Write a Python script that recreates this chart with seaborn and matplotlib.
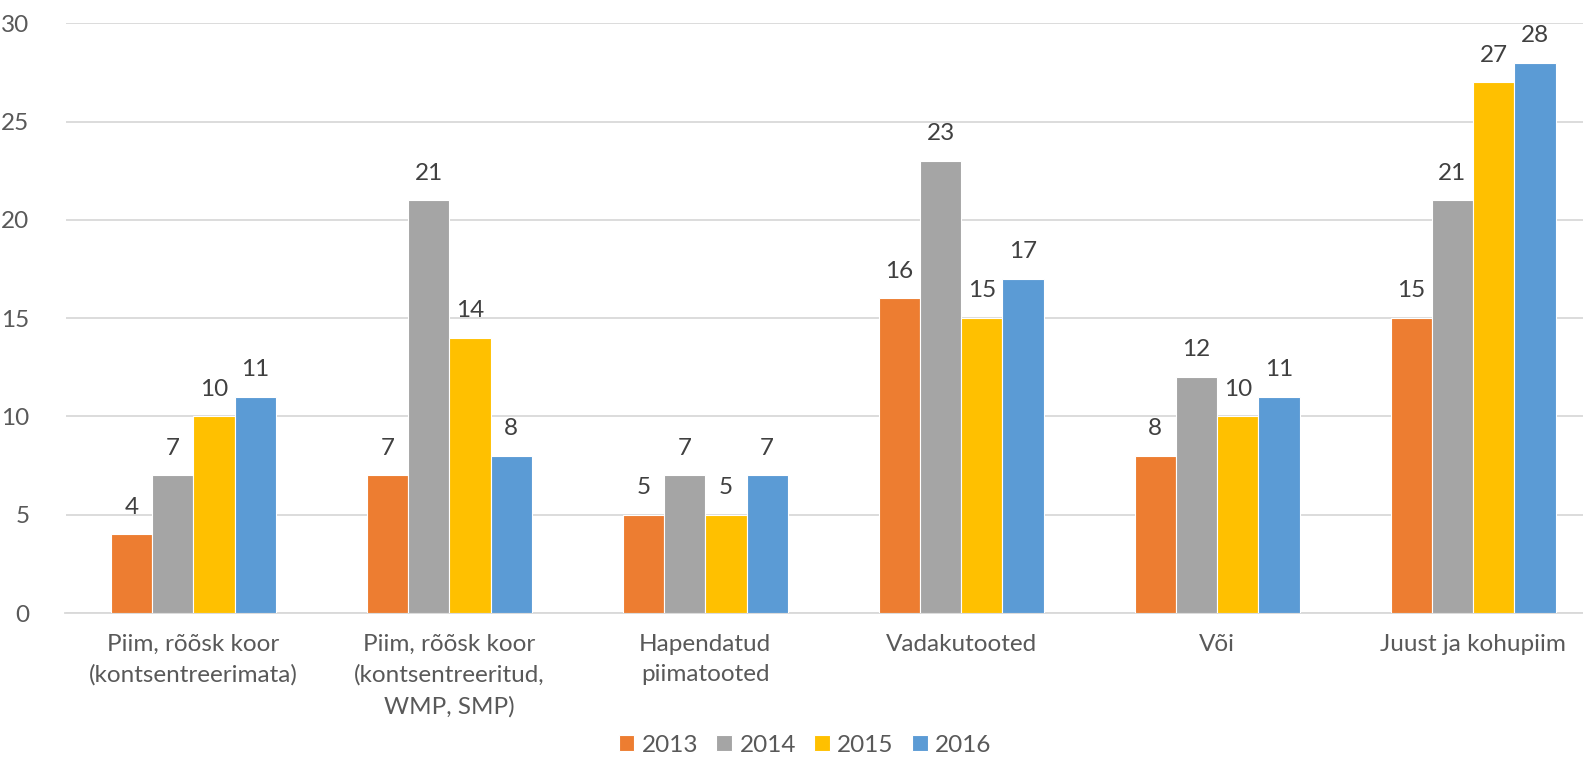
import numpy as np
import pandas as pd
import matplotlib
matplotlib.use("Agg")
import matplotlib.pyplot as plt
import seaborn as sns

# andmed
tooted = ["Piim, rõõsk koor\n(kontsentreerimata)",
          "Piim, rõõsk koor\n(kontsentreeritud,\nWMP, SMP)",
          "Hapendatud\npiimatooted",
          "Vadakutooted",
          "Või",
          "Juust ja kohupiim"]
aastad = ["2013", "2014", "2015", "2016"]
v2013 = [4, 7, 5, 16, 8, 15]
v2014 = [7, 21, 7, 23, 12, 21]
v2015 = [10, 14, 5, 15, 10, 27]
v2016 = [11, 8, 7, 17, 11, 28]
varvid = ["#ED7D31", "#A5A5A5", "#FFC000", "#5B9BD5"]

df = pd.DataFrame({"toode": tooted * 4,
                   "aasta": np.repeat(aastad, len(tooted)),
                   "vaartus": v2013 + v2014 + v2015 + v2016})

sns.set_theme(style="white")
plt.rcParams["font.family"] = ["Lato", "DejaVu Sans"]
fs = 17.5

fig = plt.figure(figsize=(15.83, 7.64), dpi=100)
ax = fig.add_axes([65.5 / 1583, 151 / 764, 1535.5 / 1583, 589.7 / 764])

sns.barplot(data=df, x="toode", y="vaartus", hue="aasta", palette=varvid,
            width=0.645, gap=0, edgecolor="white", linewidth=0.8,
            saturation=1, ax=ax, zorder=3)

# sildid tulpade kohal
for c in ax.containers:
    ax.bar_label(c, padding=12, fontsize=fs, color="#404040")

ax.set_ylim(0, 30)
ax.set_yticks(range(0, 31, 5))
ax.set_xlim(-0.5, 5.5)
ax.grid(axis="y", color="#D9D9D9", linewidth=1.3, zorder=0)
ax.set_xlabel("")
ax.set_ylabel("")
for s in ["top", "right", "left"]:
    ax.spines[s].set_visible(False)
ax.spines["bottom"].set_color("#D9D9D9")
ax.spines["bottom"].set_linewidth(1.3)
ax.tick_params(axis="both", length=0, labelsize=fs, colors="#595959")
ax.tick_params(axis="y", pad=26)
ax.tick_params(axis="x", pad=15)
for t in ax.get_xticklabels():
    t.set_linespacing(1.55)

leg = ax.legend(loc="center", bbox_to_anchor=(805 / 1583, 19 / 764),
                bbox_transform=fig.transFigure, ncol=4, frameon=False,
                fontsize=fs, handlelength=0.65, handleheight=0.65,
                handletextpad=0.3, columnspacing=0.75)
for t in leg.get_texts():
    t.set_color("#595959")

fig.savefig("out.png", dpi=100)
